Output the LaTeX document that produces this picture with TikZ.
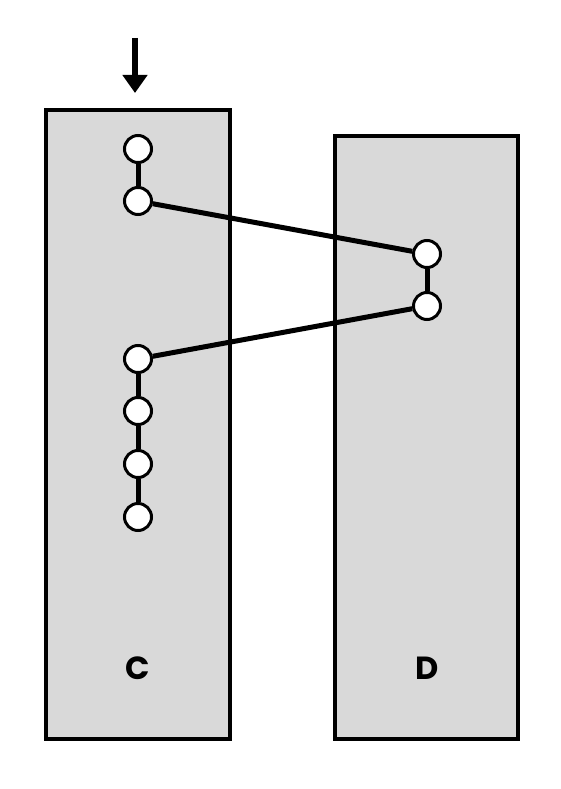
\documentclass[tikz,border=0pt]{standalone}
\usepackage{fontspec}
\setmainfont{Poppins}
\usetikzlibrary{arrows.meta}
\begin{document}
\begin{tikzpicture}[x=1pt,y=-1pt,
  panel/.style={draw=black, line width=3.2pt, fill={rgb,255:red,217;green,217;blue,217}},
  dot/.style={circle, draw=black, line width=3pt, fill=white, minimum size=27pt, inner sep=0pt},
  link/.style={line width=5pt},
  lbl/.style={font=\bfseries\fontsize{32}{36}\selectfont, inner sep=0pt}]
\useasboundingbox (0,0) rectangle (560,789);
\draw[panel] (46,110) rectangle (230,739);
\draw[panel] (335,136) rectangle (518,739);
\node[lbl] (lc) at (138,668) {C};
\node[lbl] (ld) at (427,668) {D};
\coordinate (arrtop) at (135,38);
\coordinate (arrtip) at (135,93);
\draw[line width=6pt, -{Triangle[length=18pt,width=24pt]}] (arrtop) -- (arrtip);
\node[dot] (c1) at (138,149) {};
\node[dot] (c2) at (138,201) {};
\node[dot] (c3) at (138,359) {};
\node[dot] (c4) at (138,411) {};
\node[dot] (c5) at (138,464) {};
\node[dot] (c6) at (138,517) {};
\node[dot] (d1) at (427,254) {};
\node[dot] (d2) at (427,306) {};
\draw[link] (c1) -- (c2);
\draw[link] (c2) -- (d1);
\draw[link] (d1) -- (d2);
\draw[link] (d2) -- (c3);
\draw[link] (c3) -- (c4);
\draw[link] (c4) -- (c5);
\draw[link] (c5) -- (c6);
\end{tikzpicture}
\end{document}
